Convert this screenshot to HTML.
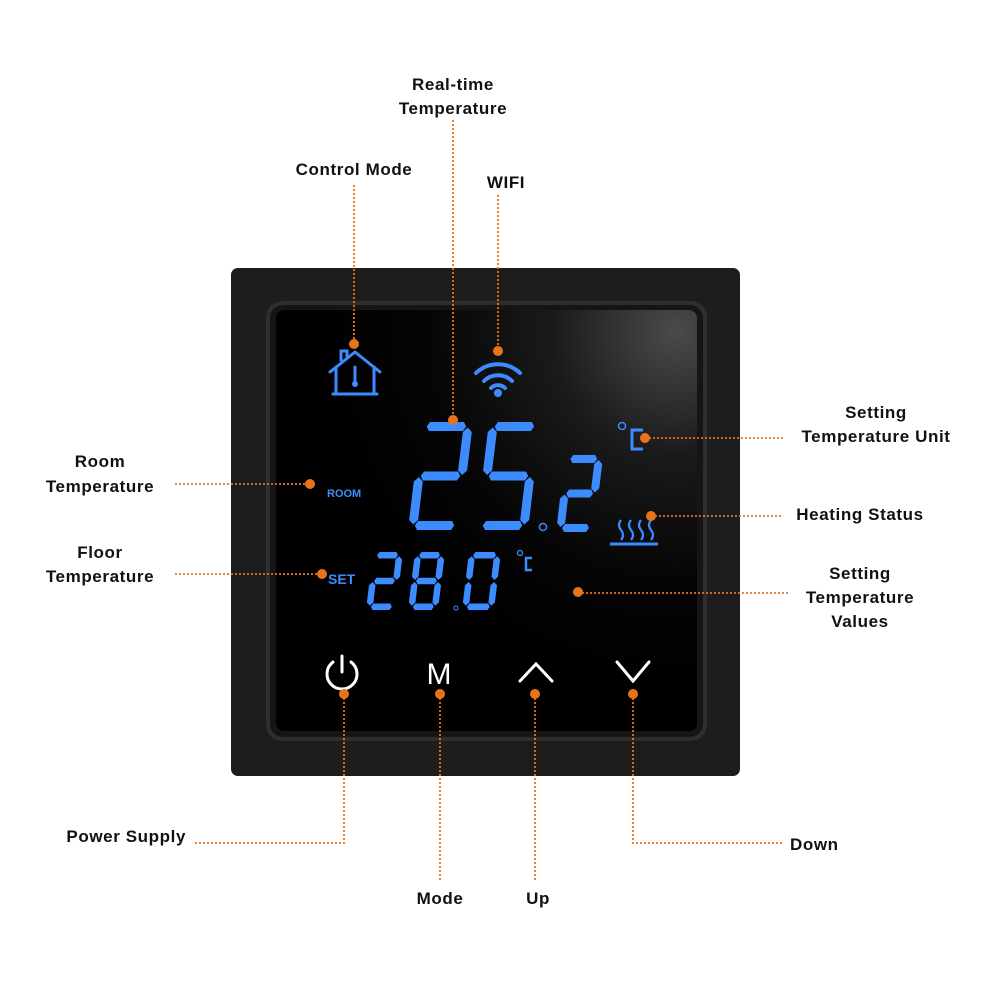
<!DOCTYPE html>
<html><head><meta charset="utf-8"><style>
html,body{margin:0;padding:0;background:#fff;width:1000px;height:1000px;overflow:hidden}
svg{display:block}
.l{font-family:"Liberation Sans",sans-serif;font-weight:bold;font-size:17px;fill:#111;letter-spacing:0.6px}
.o{stroke:#e8731a;stroke-width:1.8;stroke-dasharray:2 2;fill:none}
.d{fill:#e8731a}
.b{fill:#3d8cff}
</style></head><body>
<svg id="s" width="1000" height="1000" viewBox="0 0 1000 1000">
<defs>
<radialGradient id="g" cx="0.95" cy="0.05" r="0.85">
<stop offset="0" stop-color="#4a4a4a"/><stop offset="0.35" stop-color="#1a1a1a"/><stop offset="0.7" stop-color="#050505"/><stop offset="1" stop-color="#000"/>
</radialGradient>
</defs>
<rect x="231" y="268" width="509" height="508" rx="7" fill="#1d1d1d"/>
<rect x="266" y="301" width="441" height="440" rx="16" fill="#2e2e2e"/>
<rect x="270" y="305" width="433" height="432" rx="13" fill="#151515"/>
<rect x="276" y="310" width="421" height="421" rx="8" fill="url(#g)"/>

<g stroke="#3d8cff" stroke-width="3" fill="none" stroke-linecap="round">
<path d="M330 372 L355 352 L380 372"/>
<path d="M336 367 V392 M374 367 V392"/>
<path d="M333 394 H377"/>
<path d="M341 360 V351 H347 V356"/>
<path d="M355 367 V382"/>
</g>
<circle cx="355" cy="384" r="3" class="b"/>
<g stroke="#3d8cff" stroke-width="4" fill="none" stroke-linecap="round">
<path d="M476 373 A32 32 0 0 1 520 373"/>
<path d="M484 381 A20 20 0 0 1 512 381"/>
<path d="M491 388 A10 10 0 0 1 505 388"/>
</g>
<circle cx="498" cy="393" r="4" class="b"/>

<g id="digits"></g>

<text x="327" y="497" font-family="Liberation Sans,sans-serif" font-weight="bold" font-size="11" fill="#3d8cff">ROOM</text>
<text x="328" y="584" font-family="Liberation Sans,sans-serif" font-weight="bold" font-size="14" fill="#3d8cff">SET</text>
<circle cx="543" cy="527" r="3.5" fill="none" stroke="#3d8cff" stroke-width="1.5"/>
<circle cx="456" cy="608" r="2" fill="none" stroke="#3d8cff" stroke-width="1"/>
<circle cx="520" cy="553" r="2.5" fill="none" stroke="#3d8cff" stroke-width="1.3"/>
<path d="M532 558 H526 V570 H532" stroke="#3d8cff" stroke-width="2.5" fill="none"/>
<circle cx="622" cy="426" r="3.5" fill="none" stroke="#3d8cff" stroke-width="1.5"/>
<path d="M643 430 H632 V449 H643" stroke="#3d8cff" stroke-width="3" fill="none"/>
<g stroke="#3d8cff" stroke-width="2.2" fill="none">
<path d="M621 520 q-4 5 0 10 q4 5 0 10"/>
<path d="M631 520 q-4 5 0 10 q4 5 0 10"/>
<path d="M641 520 q-4 5 0 10 q4 5 0 10"/>
<path d="M651 520 q-4 5 0 10 q4 5 0 10"/>
<path d="M610 544 H658" stroke-width="3"/>
</g>
<g stroke="#fff" stroke-width="3" fill="none" stroke-linecap="round">
<path d="M333 662 A15 15 0 1 0 351 662"/>
<path d="M342 656 V672"/>
<path d="M520 681 L536 664 L552 681"/>
<path d="M617 662 L633 681 L649 662"/>
</g>
<text x="439" y="684" text-anchor="middle" font-family="Liberation Sans,sans-serif" font-size="30" fill="#fff">M</text>

<path class="o" d="M354 185 V344"/><circle class="d" cx="354" cy="344" r="5"/>
<path class="o" d="M453 120 V420"/><circle class="d" cx="453" cy="420" r="5"/>
<path class="o" d="M498 195 V351"/><circle class="d" cx="498" cy="351" r="5"/>
<path class="o" d="M645 438 H785"/><circle class="d" cx="645" cy="438" r="5"/>
<path class="o" d="M651 516 H783"/><circle class="d" cx="651" cy="516" r="5"/>
<path class="o" d="M578 593 H790"/><circle class="d" cx="578" cy="592" r="5"/>
<path class="o" d="M175 484 H310"/><circle class="d" cx="310" cy="484" r="5"/>
<path class="o" d="M175 574 H322"/><circle class="d" cx="322" cy="574" r="5"/>
<path class="o" d="M344 694 V843 H193"/><circle class="d" cx="344" cy="694" r="5"/>
<path class="o" d="M440 694 V880"/><circle class="d" cx="440" cy="694" r="5"/>
<path class="o" d="M535 694 V880"/><circle class="d" cx="535" cy="694" r="5"/>
<path class="o" d="M633 694 V843 H783"/><circle class="d" cx="633" cy="694" r="5"/>

<text class="l" x="453" y="90" text-anchor="middle">Real-time</text>
<text class="l" x="453" y="114" text-anchor="middle">Temperature</text>
<text class="l" x="354" y="175" text-anchor="middle">Control Mode</text>
<text class="l" x="506" y="188" text-anchor="middle">WIFI</text>
<text class="l" x="876" y="418" text-anchor="middle">Setting</text>
<text class="l" x="876" y="442" text-anchor="middle">Temperature Unit</text>
<text class="l" x="860" y="520" text-anchor="middle">Heating Status</text>
<text class="l" x="860" y="579" text-anchor="middle">Setting</text>
<text class="l" x="860" y="603" text-anchor="middle">Temperature</text>
<text class="l" x="860" y="627" text-anchor="middle">Values</text>
<text class="l" x="100" y="467" text-anchor="middle">Room</text>
<text class="l" x="100" y="492" text-anchor="middle">Temperature</text>
<text class="l" x="100" y="558" text-anchor="middle">Floor</text>
<text class="l" x="100" y="582" text-anchor="middle">Temperature</text>
<text class="l" x="186" y="842" text-anchor="end">Power Supply</text>
<text class="l" x="440" y="904" text-anchor="middle">Mode</text>
<text class="l" x="538" y="904" text-anchor="middle">Up</text>
<text class="l" x="790" y="850">Down</text>
</svg>
<script>
(function(){
var S={0:"abcdef",2:"abged",5:"afgcd",8:"abcdefg"};
var out="";
function digit(ch,x,y,w,h,t){
  var segs=S[ch],k=0.12,hh=h/2;
  function P(px,py){return (x+px+(h-py)*k).toFixed(1)+","+(y+py).toFixed(1);}
  function hs(py){return "M"+P(t*0.7,py)+"L"+P(t,py-t/2)+"L"+P(w-t,py-t/2)+"L"+P(w-t*0.7,py)+"L"+P(w-t,py+t/2)+"L"+P(t,py+t/2)+"Z";}
  function vs(px,y1,y2){return "M"+P(px,y1)+"L"+P(px+t/2,y1+t*0.5)+"L"+P(px+t/2,y2-t*0.5)+"L"+P(px,y2)+"L"+P(px-t/2,y2-t*0.5)+"L"+P(px-t/2,y1+t*0.5)+"Z";}
  var d={a:hs(t/2),g:hs(hh),d:hs(h-t/2),f:vs(t/2,t/2+1,hh-1),b:vs(w-t/2,t/2+1,hh-1),e:vs(t/2,hh+1,h-t/2-1),c:vs(w-t/2,hh+1,h-t/2-1)};
  for(var i=0;i<segs.length;i++) out+='<path class="b" d="'+d[segs[i]]+'"/>';
}
digit(2,408,422,52,108,9);
digit(5,476,422,52,108,9);
digit(2,556,455,38,77,8);
digit(2,366,552,30,58,6.5);
digit(8,408,552,30,58,6.5);
digit(0,462,552,32,58,6.5);
document.getElementById("digits").innerHTML=out;
})();
</script>
</body></html>
